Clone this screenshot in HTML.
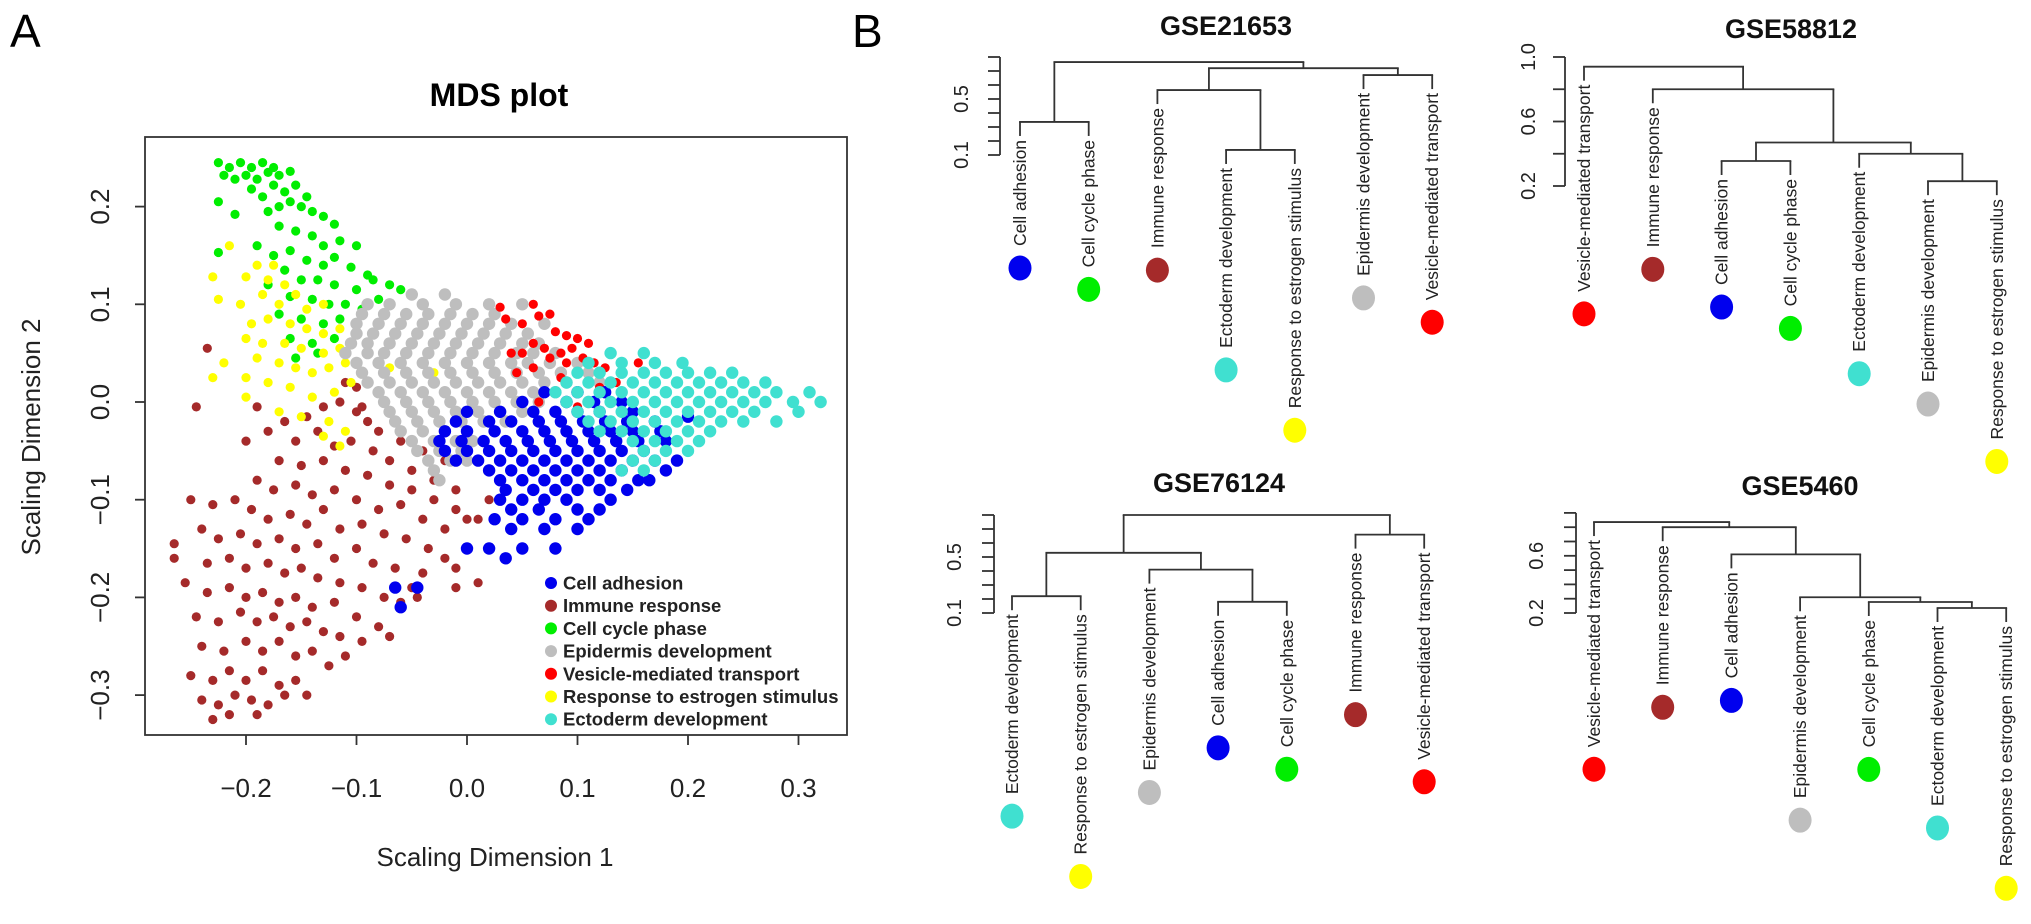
<!DOCTYPE html>
<html><head><meta charset="utf-8">
<style>
html,body{margin:0;padding:0;background:#fff;}
svg{display:block;font-family:"Liberation Sans",Arial,sans-serif;}
</style></head>
<body>
<svg id="fig" width="2031" height="924" viewBox="0 0 2031 924" xmlns="http://www.w3.org/2000/svg">
<text x="10" y="47" font-size="46">A</text>
<text x="852" y="47" font-size="46">B</text>
<g id="mds"></g>
<g id="dend"></g>
</svg>
<script>
// ---------- MDS data ----------
const groupNames = ["Immune response","Cell cycle phase","Response to estrogen stimulus","Epidermis development","Vesicle-mediated transport","Cell adhesion","Ectoderm development"];
const groupColors = ["#a52a2a","#00ee00","#ffff00","#bebebe","#ff0000","#0000ee","#40e0d0"];
const legendOrder = ["Cell adhesion","Immune response","Cell cycle phase","Epidermis development","Vesicle-mediated transport","Response to estrogen stimulus","Ectoderm development"];
const xTicks = [-0.2,-0.1,0.0,0.1,0.2,0.3];
const yTicks = [-0.3,-0.2,-0.1,0.0,0.1,0.2];
const xTickLabels = ["\u22120.2","\u22120.1","0.0","0.1","0.2","0.3"];
const yTickLabels = ["\u22120.3","\u22120.2","\u22120.1","0.0","0.1","0.2"];

const immunePts = [[-0.235,0.055],[-0.245,-0.005],[-0.19,-0.005],[-0.165,-0.02],[-0.145,-0.015],[-0.13,-0.005],[-0.115,0.0],[-0.1,-0.01],[-0.09,-0.02],[-0.08,-0.03],[-0.06,-0.04],[-0.04,-0.05],[-0.02,-0.06],
[-0.18,-0.03],[-0.155,-0.04],[-0.135,-0.03],[-0.12,-0.045],[-0.105,-0.04],[-0.085,-0.05],[-0.07,-0.06],[-0.05,-0.07],[-0.03,-0.08],[-0.01,-0.09],[0.02,-0.1],
[-0.2,-0.04],[-0.17,-0.06],[-0.15,-0.065],[-0.13,-0.06],[-0.11,-0.07],[-0.09,-0.075],[-0.07,-0.085],[-0.05,-0.09],[-0.03,-0.1],[-0.01,-0.11],[0.01,-0.12],[0.04,-0.13],
[-0.19,-0.08],[-0.175,-0.09],[-0.155,-0.085],[-0.14,-0.095],[-0.12,-0.09],[-0.1,-0.1],[-0.08,-0.11],[-0.06,-0.105],[-0.04,-0.12],[-0.02,-0.13],[0.0,-0.12],
[-0.25,-0.1],[-0.23,-0.105],[-0.21,-0.1],[-0.195,-0.11],[-0.18,-0.12],[-0.16,-0.115],[-0.145,-0.125],[-0.13,-0.11],[-0.115,-0.13],[-0.095,-0.125],[-0.075,-0.135],[-0.055,-0.14],[-0.035,-0.15],[-0.02,-0.16],
[-0.24,-0.13],[-0.225,-0.14],[-0.205,-0.135],[-0.19,-0.145],[-0.17,-0.14],[-0.155,-0.15],[-0.135,-0.145],[-0.12,-0.16],[-0.1,-0.15],[-0.085,-0.165],[-0.065,-0.17],[-0.04,-0.175],[-0.01,-0.17],
[-0.265,-0.145],[-0.265,-0.16],[-0.235,-0.165],[-0.215,-0.16],[-0.2,-0.17],[-0.18,-0.165],[-0.165,-0.175],[-0.15,-0.17],[-0.135,-0.18],[-0.115,-0.185],[-0.095,-0.19],[-0.075,-0.2],[-0.05,-0.19],[-0.045,-0.2],[-0.06,-0.205],
[-0.255,-0.185],[-0.235,-0.195],[-0.215,-0.19],[-0.2,-0.2],[-0.185,-0.195],[-0.17,-0.205],[-0.155,-0.2],[-0.14,-0.21],[-0.12,-0.205],[-0.1,-0.22],[-0.08,-0.23],[-0.01,-0.19],[0.01,-0.185],
[-0.245,-0.22],[-0.225,-0.225],[-0.205,-0.215],[-0.19,-0.225],[-0.175,-0.22],[-0.16,-0.23],[-0.145,-0.225],[-0.13,-0.235],[-0.115,-0.24],[-0.095,-0.245],[-0.07,-0.24],[-0.11,-0.26],
[-0.24,-0.25],[-0.22,-0.255],[-0.2,-0.245],[-0.185,-0.255],[-0.17,-0.245],[-0.155,-0.26],[-0.14,-0.255],[-0.125,-0.27],
[-0.25,-0.28],[-0.23,-0.285],[-0.215,-0.275],[-0.2,-0.285],[-0.185,-0.275],[-0.17,-0.29],[-0.155,-0.285],[-0.145,-0.3],
[-0.24,-0.305],[-0.225,-0.31],[-0.21,-0.3],[-0.195,-0.305],[-0.18,-0.31],[-0.165,-0.3],[-0.23,-0.325],[-0.215,-0.32],[-0.19,-0.32],
[-0.1,0.015],[-0.095,-0.005],[-0.11,0.02]];

const cyclePts = [[-0.225,0.245],[-0.215,0.24],[-0.205,0.245],[-0.195,0.24],[-0.185,0.245],[-0.175,0.24],[-0.22,0.232],[-0.21,0.228],[-0.2,0.232],[-0.19,0.228],[-0.18,0.235],[-0.17,0.232],[-0.16,0.236],[-0.195,0.218],[-0.185,0.21],[-0.175,0.222],[-0.165,0.215],[-0.155,0.222],[-0.17,0.2],[-0.16,0.205],[-0.15,0.2],[-0.18,0.195],[-0.225,0.205],[-0.21,0.192],[-0.145,0.21],[-0.14,0.195],[-0.13,0.19],[-0.12,0.182],[-0.17,0.18],[-0.155,0.175],[-0.14,0.17],[-0.13,0.16],[-0.115,0.165],[-0.1,0.16],[-0.19,0.16],[-0.175,0.15],[-0.16,0.155],[-0.145,0.145],[-0.13,0.14],[-0.12,0.148],[-0.105,0.138],[-0.09,0.13],[-0.225,0.153],[-0.165,0.135],[-0.15,0.125],[-0.135,0.125],[-0.12,0.12],[-0.1,0.115],[-0.085,0.125],[-0.07,0.12],[-0.18,0.12],[-0.16,0.108],[-0.14,0.105],[-0.125,0.1],[-0.11,0.1],[-0.095,0.095],[-0.08,0.105],[-0.17,0.09],[-0.15,0.085],[-0.13,0.08],[-0.115,0.085],[-0.1,0.078],[-0.16,0.065],[-0.14,0.06],[-0.12,0.065],[-0.155,0.045],[-0.135,0.05],[-0.06,0.115]];

const estrogenPts = [[-0.215,0.16],[-0.23,0.128],[-0.2,0.128],[-0.19,0.14],[-0.18,0.125],[-0.175,0.14],[-0.165,0.12],[-0.225,0.105],[-0.205,0.1],[-0.185,0.11],[-0.17,0.1],[-0.155,0.11],[-0.145,0.095],[-0.13,0.1],[-0.195,0.08],[-0.18,0.085],[-0.16,0.08],[-0.145,0.075],[-0.13,0.07],[-0.115,0.075],[-0.2,0.065],[-0.185,0.06],[-0.165,0.06],[-0.15,0.055],[-0.13,0.05],[-0.115,0.055],[-0.105,0.06],[-0.22,0.04],[-0.19,0.045],[-0.17,0.04],[-0.155,0.035],[-0.14,0.03],[-0.125,0.035],[-0.11,0.04],[-0.23,0.025],[-0.2,0.025],[-0.18,0.02],[-0.16,0.015],[-0.14,0.005],[-0.12,0.01],[-0.105,0.02],[-0.17,-0.01],[-0.15,-0.015],[-0.125,-0.02],[-0.11,-0.03],[-0.115,-0.045],[-0.13,-0.035],[-0.2,0.005],[-0.03,0.03],[-0.07,0.035]];

const epidermisPts = [[-0.05,0.11],[-0.02,0.11],
[-0.09,0.1],[-0.07,0.1],[-0.04,0.1],[-0.01,0.1],[0.02,0.1],[0.05,0.1],
[-0.095,0.09],[-0.075,0.09],[-0.055,0.09],[-0.035,0.09],[-0.015,0.09],[0.005,0.09],[0.025,0.09],
[-0.1,0.08],[-0.08,0.08],[-0.06,0.08],[-0.04,0.08],[-0.02,0.08],[0.0,0.08],[0.02,0.08],[0.04,0.08],[0.07,0.08],
[-0.1,0.07],[-0.085,0.07],[-0.065,0.07],[-0.045,0.07],[-0.025,0.07],[-0.005,0.07],[0.015,0.07],[0.035,0.07],[0.055,0.07],
[-0.105,0.06],[-0.09,0.06],[-0.07,0.06],[-0.05,0.06],[-0.03,0.06],[-0.01,0.06],[0.01,0.06],[0.03,0.06],[0.05,0.06],[0.065,0.06],
[-0.11,0.05],[-0.09,0.05],[-0.075,0.05],[-0.055,0.05],[-0.035,0.05],[-0.015,0.05],[0.005,0.05],[0.025,0.05],[0.045,0.05],[0.06,0.05],[0.08,0.05],
[-0.1,0.04],[-0.08,0.04],[-0.06,0.04],[-0.04,0.04],[-0.02,0.04],[0.0,0.04],[0.02,0.04],[0.04,0.04],[0.055,0.04],[0.075,0.04],[0.1,0.04],
[-0.095,0.03],[-0.075,0.03],[-0.055,0.03],[-0.035,0.03],[-0.015,0.03],[0.005,0.03],[0.025,0.03],[0.045,0.03],[0.065,0.03],[0.085,0.03],[0.11,0.03],
[-0.09,0.02],[-0.07,0.02],[-0.05,0.02],[-0.03,0.02],[-0.01,0.02],[0.01,0.02],[0.03,0.02],[0.05,0.02],[0.07,0.02],[0.09,0.02],[0.12,0.02],
[-0.08,0.01],[-0.06,0.01],[-0.04,0.01],[-0.02,0.01],[0.0,0.01],[0.02,0.01],[0.04,0.01],[0.06,0.01],[0.08,0.01],[0.1,0.01],[0.125,0.01],
[-0.075,0.0],[-0.055,0.0],[-0.035,0.0],[-0.015,0.0],[0.005,0.0],[0.025,0.0],[0.045,0.0],[0.065,0.0],[0.09,0.0],[0.11,0.0],
[-0.07,-0.01],[-0.05,-0.01],[-0.03,-0.01],[-0.01,-0.01],[0.01,-0.01],[0.03,-0.01],[0.05,-0.01],
[-0.065,-0.02],[-0.045,-0.02],[-0.025,-0.02],[-0.005,-0.02],[0.015,-0.02],[0.035,-0.02],
[-0.06,-0.03],[-0.04,-0.03],[-0.02,-0.03],[0.0,-0.03],
[-0.05,-0.04],[-0.03,-0.04],[-0.01,-0.04],[0.005,-0.04],
[-0.045,-0.05],[-0.025,-0.05],[-0.005,-0.05],
[-0.035,-0.06],[-0.015,-0.06],[0.0,-0.06],
[-0.03,-0.07],[0.02,-0.07],[-0.025,-0.08]];

const vesiclePts = [[0.03,0.097],[0.035,0.085],[0.06,0.1],[0.065,0.088],[0.075,0.09],[0.05,0.08],[0.08,0.072],[0.09,0.068],[0.1,0.065],[0.11,0.06],[0.095,0.055],[0.085,0.05],[0.07,0.055],[0.06,0.06],[0.05,0.05],[0.075,0.045],[0.09,0.04],[0.105,0.045],[0.115,0.04],[0.125,0.035],[0.1,0.03],[0.13,0.05],[0.14,0.03],[0.155,0.04],[0.085,0.025],[0.06,0.035],[0.04,0.05],[0.12,0.015],[0.135,0.02],[0.065,0.0],[0.1,-0.005],[0.045,0.03]];

const adhesionPts = [[0.07,0.01],[0.1,0.01],[0.125,0.01],
[0.05,0.0],[0.09,0.0],[0.115,0.0],[0.14,0.0],
[0.0,-0.01],[0.03,-0.01],[0.06,-0.01],[0.08,-0.01],[0.1,-0.01],[0.12,-0.01],[0.15,-0.01],
[-0.01,-0.02],[0.02,-0.02],[0.04,-0.02],[0.065,-0.02],[0.085,-0.02],[0.105,-0.02],[0.125,-0.02],[0.145,-0.02],[0.17,-0.02],
[-0.02,-0.03],[0.0,-0.03],[0.025,-0.03],[0.05,-0.03],[0.07,-0.03],[0.09,-0.03],[0.11,-0.03],[0.13,-0.03],[0.15,-0.03],[0.175,-0.03],
[-0.025,-0.04],[-0.005,-0.04],[0.015,-0.04],[0.035,-0.04],[0.055,-0.04],[0.075,-0.04],[0.095,-0.04],[0.115,-0.04],[0.135,-0.04],[0.155,-0.04],[0.18,-0.04],
[-0.02,-0.05],[0.0,-0.05],[0.02,-0.05],[0.04,-0.05],[0.06,-0.05],[0.08,-0.05],[0.1,-0.05],[0.12,-0.05],[0.14,-0.05],[0.16,-0.05],
[-0.01,-0.06],[0.01,-0.06],[0.03,-0.06],[0.05,-0.06],[0.07,-0.06],[0.09,-0.06],[0.11,-0.06],[0.13,-0.06],[0.15,-0.06],[0.17,-0.06],[0.19,-0.06],
[0.02,-0.07],[0.04,-0.07],[0.06,-0.07],[0.08,-0.07],[0.1,-0.07],[0.12,-0.07],[0.14,-0.07],[0.18,-0.07],
[0.03,-0.08],[0.05,-0.08],[0.07,-0.08],[0.09,-0.08],[0.11,-0.08],[0.13,-0.08],[0.155,-0.08],
[0.035,-0.09],[0.06,-0.09],[0.08,-0.09],[0.1,-0.09],[0.12,-0.09],[0.145,-0.09],
[0.03,-0.1],[0.05,-0.1],[0.07,-0.1],[0.09,-0.1],[0.13,-0.1],
[0.04,-0.11],[0.065,-0.11],[0.1,-0.11],[0.12,-0.11],
[0.025,-0.12],[0.05,-0.12],[0.08,-0.12],[0.11,-0.12],
[0.04,-0.13],[0.07,-0.13],[0.1,-0.13],
[0.02,-0.15],[0.05,-0.15],[0.08,-0.15],[0.035,-0.16],
[-0.06,-0.21],[-0.045,-0.19],[-0.065,-0.19],[0.0,-0.15],[0.2,-0.015],[0.165,-0.08]];

const ectodermPts = [[0.13,0.05],[0.16,0.05],
[0.11,0.04],[0.14,0.04],[0.17,0.04],[0.195,0.04],
[0.1,0.03],[0.12,0.03],[0.14,0.03],[0.16,0.03],[0.18,0.03],[0.2,0.03],[0.22,0.03],[0.24,0.03],
[0.09,0.02],[0.11,0.02],[0.13,0.02],[0.15,0.02],[0.17,0.02],[0.19,0.02],[0.21,0.02],[0.23,0.02],[0.25,0.02],[0.27,0.02],
[0.08,0.01],[0.1,0.01],[0.12,0.01],[0.14,0.01],[0.16,0.01],[0.18,0.01],[0.2,0.01],[0.22,0.01],[0.24,0.01],[0.26,0.01],[0.28,0.01],[0.31,0.01],
[0.09,0.0],[0.11,0.0],[0.13,0.0],[0.15,0.0],[0.17,0.0],[0.19,0.0],[0.21,0.0],[0.23,0.0],[0.25,0.0],[0.27,0.0],[0.295,0.0],[0.32,0.0],
[0.1,-0.01],[0.12,-0.01],[0.14,-0.01],[0.16,-0.01],[0.18,-0.01],[0.2,-0.01],[0.22,-0.01],[0.24,-0.01],[0.26,-0.01],[0.3,-0.01],
[0.11,-0.02],[0.13,-0.02],[0.15,-0.02],[0.17,-0.02],[0.19,-0.02],[0.21,-0.02],[0.23,-0.02],[0.25,-0.02],[0.28,-0.02],
[0.12,-0.03],[0.14,-0.03],[0.16,-0.03],[0.18,-0.03],[0.2,-0.03],[0.22,-0.03],
[0.15,-0.04],[0.17,-0.04],[0.19,-0.04],[0.21,-0.04],
[0.16,-0.05],[0.18,-0.05],[0.2,-0.05],
[0.15,-0.06],[0.17,-0.06],[0.14,-0.07],[0.16,-0.07]];

const groupPoints = [immunePts,cyclePts,estrogenPts,epidermisPts,vesiclePts,adhesionPts,ectodermPts];

// ---------- Dendrogram data ----------
const dendTitles = ["GSE21653","GSE58812","GSE76124","GSE5460"];
const leaves1 = ["Cell adhesion","Cell cycle phase","Immune response","Ectoderm development","Response to estrogen stimulus","Epidermis development","Vesicle-mediated transport"];
const mergeL1 = [-1,-4,-3,-6,3,1];
const mergeR1 = [-2,-5,2,-7,4,5];
const heights1 = [0.336,0.136,0.564,0.671,0.72,0.764];
const ticks1 = [0.1,0.2,0.3,0.4,0.5,0.6,0.7,0.8];
const tickLabels1 = ["0.1","0.5"];

const leaves2 = ["Vesicle-mediated transport","Immune response","Cell adhesion","Cell cycle phase","Ectoderm development","Epidermis development","Response to estrogen stimulus"];
const mergeL2 = [-3,-6,-5,1,-2,-1];
const mergeR2 = [-4,-7,2,3,4,5];
const heights2 = [0.355,0.23,0.40,0.47,0.80,0.94];
const ticks2 = [0.2,0.4,0.6,0.8,1.0];
const tickLabels2 = ["0.2","0.6","1.0"];

const leaves3 = ["Ectoderm development","Response to estrogen stimulus","Epidermis development","Cell adhesion","Cell cycle phase","Immune response","Vesicle-mediated transport"];
const mergeL3 = [-1,-4,-3,1,-6,4];
const mergeR3 = [-2,-5,2,3,-7,5];
const heights3 = [0.22,0.18,0.41,0.53,0.66,0.80];
const ticks3 = [0.1,0.2,0.3,0.4,0.5,0.6,0.7,0.8];
const tickLabels3 = ["0.1","0.5"];

const leaves4 = ["Vesicle-mediated transport","Immune response","Cell adhesion","Epidermis development","Cell cycle phase","Ectoderm development","Response to estrogen stimulus"];
const mergeL4 = [-6,-5,-4,-3,-2,-1];
const mergeR4 = [-7,1,2,3,4,5];
const heights4 = [0.235,0.277,0.31,0.61,0.80,0.836];
const ticks4 = [0.2,0.3,0.4,0.5,0.6,0.7,0.8,0.9];
const tickLabels4 = ["0.2","0.6"];

// ---------- helpers ----------
const NS = "http://www.w3.org/2000/svg";
function mk(tag, attrs, parent){
  const e = document.createElementNS(NS, tag);
  for (const k in attrs) e.setAttribute(k, attrs[k]);
  parent.appendChild(e);
  return e;
}

// ---------- MDS plot ----------
const mds = document.getElementById('mds');
const BX0=145, BX1=847, BY0=137, BY1=735;
const sx = v => 467 + v*1105;
const sy = v => 402 - v*977;
const denseGroups = ["Epidermis development","Cell adhesion","Ectoderm development"];

const mt = mk('text',{x:499,y:106,'font-size':32,'font-weight':'bold','text-anchor':'middle'},mds);
mt.textContent = "MDS plot";



groupPoints.forEach((pts,gi)=>{
  const g = mk('g',{fill:groupColors[gi]},mds);
  
  
  const r = denseGroups.indexOf(groupNames[gi])>=0 ? 6.2 : 4.6;
  pts.forEach(p=>{
    const c = mk('circle',{cx:sx(p[0]).toFixed(1),cy:sy(p[1]).toFixed(1),r:r},g);
    
    
  });
});

const box = mk('rect',{x:BX0,y:BY0,width:BX1-BX0,height:BY1-BY0,fill:'none',stroke:'#333','stroke-width':1.8},mds);



xTicks.forEach((v,i)=>{
  const x = sx(v);
  const tl = mk('line',{x1:x,x2:x,y1:BY1,y2:BY1+10,stroke:'#333','stroke-width':1.8},mds);
  
  
  const t = mk('text',{x:x,y:797,'font-size':26,'text-anchor':'middle',fill:'#222'},mds);
  t.textContent = xTickLabels[i];
  
  
});
yTicks.forEach((v,i)=>{
  const y = sy(v);
  const tl = mk('line',{x1:BX0-10,x2:BX0,y1:y,y2:y,stroke:'#333','stroke-width':1.8},mds);
  
  
  const t = mk('text',{x:0,y:0,'font-size':26,'text-anchor':'middle',fill:'#222',transform:`translate(109,${y}) rotate(-90)`},mds);
  t.textContent = yTickLabels[i];
  
  
});
const xt = mk('text',{x:495,y:866,'font-size':26,'text-anchor':'middle',fill:'#222'},mds);
xt.textContent = "Scaling Dimension 1";


const yt = mk('text',{x:0,y:0,'font-size':26,'text-anchor':'middle',fill:'#222',transform:'translate(40,437) rotate(-90)'},mds);
yt.textContent = "Scaling Dimension 2";



const leg = mk('g',{},mds);


legendOrder.forEach((name,i)=>{
  const gi = groupNames.indexOf(name);
  const y = 583 + i*22.7;
  const c = mk('circle',{cx:551,cy:y,r:6,fill:groupColors[gi]},leg);
  
  
  const t = mk('text',{x:563,y:y+6.5,'font-size':18.5,'font-weight':'bold',fill:'#222'},leg);
  t.textContent = name;
  
  
});

// ---------- Dendrograms ----------
const dend = document.getElementById('dend');
const leafColor = name => groupColors[groupNames.indexOf(name)];

function drawDendro(cfg){
  const g = mk('g',{},dend);
  
  
  const yOf = v => cfg.y0 - (v - cfg.v0)*cfg.k;
  const tt = mk('text',{x:cfg.titleX,y:cfg.titleY,'font-size':27,'font-weight':'bold','text-anchor':'middle',fill:'#111'},g);
  tt.textContent = cfg.title;
  
  
  const tks = cfg.ticks;
  const ax = mk('line',{x1:cfg.ax,x2:cfg.ax,y1:yOf(tks[tks.length-1]),y2:yOf(tks[0]),stroke:'#333','stroke-width':1.8},g);
  
  
  tks.forEach(v=>{
    const tl = mk('line',{x1:cfg.ax-12,x2:cfg.ax,y1:yOf(v),y2:yOf(v),stroke:'#333','stroke-width':1.8},g);
    
    
  });
  cfg.tickLabels.forEach(s=>{
    const v = parseFloat(s);
    const t = mk('text',{x:0,y:0,'font-size':20,'text-anchor':'middle',fill:'#222',transform:`translate(${cfg.lx+7},${yOf(v)}) rotate(-90)`},g);
    t.textContent = s;
    
    
  });
  const leafX = i => cfg.x0 + i*cfg.dx;
  const nodes = [];
  const hangBottom = {};
  function nodeInfo(id){
    if (id < 0) return {x: leafX(-id-1), leaf: -id-1};
    return nodes[id-1];
  }
  for (let m=0; m<cfg.L.length; m++){
    const a = nodeInfo(cfg.L[m]), b = nodeInfo(cfg.R[m]);
    const hy = yOf(cfg.H[m]);
    [a,b].forEach(n=>{
      const yb = n.leaf!==undefined ? hy + 14 : n.y;
      if (n.leaf!==undefined) hangBottom[n.leaf] = yb;
      const l = mk('line',{x1:n.x,x2:n.x,y1:hy,y2:yb,stroke:'#333','stroke-width':1.8},g);
      
      
    });
    const h = mk('line',{x1:a.x-0.9,x2:b.x+0.9,y1:hy,y2:hy,stroke:'#333','stroke-width':1.8},g);
    
    
    nodes.push({x:(a.x+b.x)/2, y:hy});
  }
  cfg.leaves.forEach((name,i)=>{
    const x = leafX(i), top = hangBottom[i] + 4;
    const t = mk('text',{x:0,y:0,'font-size':17.5,'text-anchor':'end',fill:'#222',transform:`translate(${x+6},${top}) rotate(-90)`},g);
    t.textContent = name;
    
    
    let len = 0;
    try { len = t.getComputedTextLength(); } catch(e) { len = name.length*8.5; }
    if (!len) len = name.length*8.5;
    const d = mk('ellipse',{cx:x,cy:top+len+22,rx:11.5,ry:12.5,fill:leafColor(name)},g);
    
    
  });
}

drawDendro({title:dendTitles[0],titleX:1226,titleY:35,ax:1000,lx:961,y0:155,v0:0.1,k:140,ticks:ticks1,tickLabels:tickLabels1,x0:1020,dx:68.7,leaves:leaves1,L:mergeL1,R:mergeR1,H:heights1});
drawDendro({title:dendTitles[1],titleX:1791,titleY:38,ax:1565,lx:1528,y0:186,v0:0.2,k:161.25,ticks:ticks2,tickLabels:tickLabels2,x0:1584,dx:68.8,leaves:leaves2,L:mergeL2,R:mergeR2,H:heights2});
drawDendro({title:dendTitles[2],titleX:1219,titleY:492,ax:994,lx:954,y0:613,v0:0.1,k:140,ticks:ticks3,tickLabels:tickLabels3,x0:1012,dx:68.7,leaves:leaves3,L:mergeL3,R:mergeR3,H:heights3});
drawDendro({title:dendTitles[3],titleX:1800,titleY:495,ax:1576,lx:1536,y0:613,v0:0.2,k:143,ticks:ticks4,tickLabels:tickLabels4,x0:1594,dx:68.7,leaves:leaves4,L:mergeL4,R:mergeR4,H:heights4});
</script>
</body></html>
